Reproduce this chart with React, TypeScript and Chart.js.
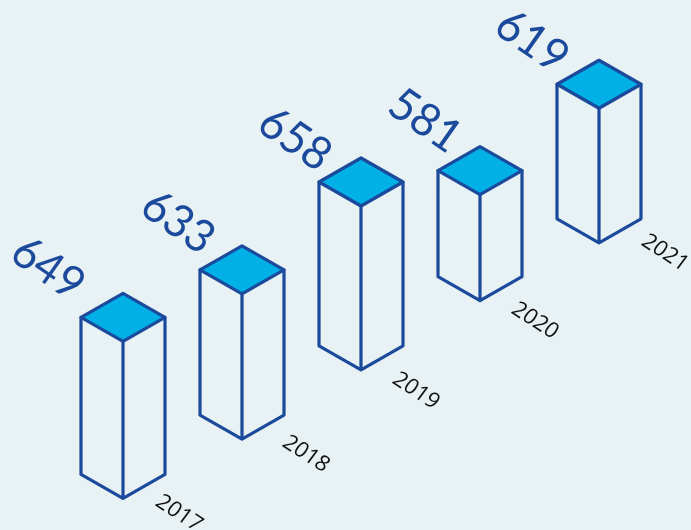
import { useEffect, useRef } from "react";
import { Chart, registerables } from "chart.js";

Chart.register(...registerables);

const years = ["2017", "2018", "2019", "2020", "2021"];
const totals = [649, 633, 658, 581, 619];
// How far each column's foot climbs the isometric floor, in value units.
const floorLift = [42, 121, 213, 305, 382];
// Columns are cut off at this value, so only the part above it is drawn.
const axisFloor = 440;

const INK = "#1b4a9c";
const TOP_FILL = "#00b0e6";
const PAGE = "#e8f1f3";

const HALF_W = 42;
const HALF_H = 24;

const totalOffsets = [[-75, -73], [-64, -72], [-66, -67], [-55, -74], [-67, -67]];
const yearOffsets = [[56, 15], [64, 15], [55, 21], [55, 20], [66, 10]];

const isoColumns = {
  id: "isoColumns",
  afterDatasetsDraw(chart: Chart) {
    const { ctx } = chart;
    const bars = chart.getDatasetMeta(0).data as any[];
    ctx.save();
    ctx.lineWidth = 3.2;
    ctx.lineJoin = "round";
    ctx.lineCap = "round";
    ctx.strokeStyle = INK;
    bars.forEach((bar, i) => {
      const { x, y, base } = bar;

      ctx.beginPath();
      ctx.moveTo(x - HALF_W, y - HALF_H);
      ctx.lineTo(x - HALF_W, base - HALF_H);
      ctx.lineTo(x, base);
      ctx.lineTo(x + HALF_W, base - HALF_H);
      ctx.lineTo(x + HALF_W, y - HALF_H);
      ctx.moveTo(x, y);
      ctx.lineTo(x, base);
      ctx.stroke();

      ctx.fillStyle = TOP_FILL;
      ctx.beginPath();
      ctx.moveTo(x, y);
      ctx.lineTo(x - HALF_W, y - HALF_H);
      ctx.lineTo(x, y - 2 * HALF_H);
      ctx.lineTo(x + HALF_W, y - HALF_H);
      ctx.closePath();
      ctx.fill();
      ctx.stroke();

      // Totals lie on the isometric plane, so they are sheared as well as turned.
      ctx.save();
      ctx.transform(0.82, 0.57, -0.6, 0.85, x + totalOffsets[i][0], y + totalOffsets[i][1]);
      ctx.font = '400 44px "Lato"';
      ctx.fillStyle = INK;
      ctx.textAlign = "center";
      ctx.textBaseline = "middle";
      ctx.fillText(String(totals[i]), 0, 0);
      ctx.restore();

      ctx.save();
      ctx.transform(0.84, 0.54, -0.6, 0.8, x + yearOffsets[i][0], base + yearOffsets[i][1]);
      ctx.font = '400 22px "Open Sans"';
      ctx.fillStyle = "#111111";
      ctx.textAlign = "center";
      ctx.textBaseline = "middle";
      ctx.fillText(years[i], 0, 0);
      ctx.restore();
    });
    ctx.restore();
  },
};

export default function App() {
  const canvasRef = useRef<HTMLCanvasElement>(null);

  useEffect(() => {
    document.body.style.margin = "0";
    const chart = new Chart(canvasRef.current!, {
      type: "bar",
      data: {
        labels: years,
        datasets: [
          {
            data: totals.map((v, i) => [floorLift[i], floorLift[i] + v - axisFloor]),
            backgroundColor: "transparent",
            borderWidth: 0,
          },
        ],
      },
      options: {
        responsive: false,
        animation: false,
        layout: { padding: { left: 63.5, right: 32.5, top: 0, bottom: 0 } },
        plugins: { legend: { display: false }, tooltip: { enabled: false } },
        scales: {
          x: { display: false },
          y: { display: false, min: 0, max: 705 },
        },
      },
      plugins: [isoColumns],
    });
    return () => chart.destroy();
  }, []);

  return (
    <div style={{ width: 691, height: 530, background: PAGE }}>
      <canvas ref={canvasRef} width={691} height={530} style={{ display: "block" }} />
    </div>
  );
}
